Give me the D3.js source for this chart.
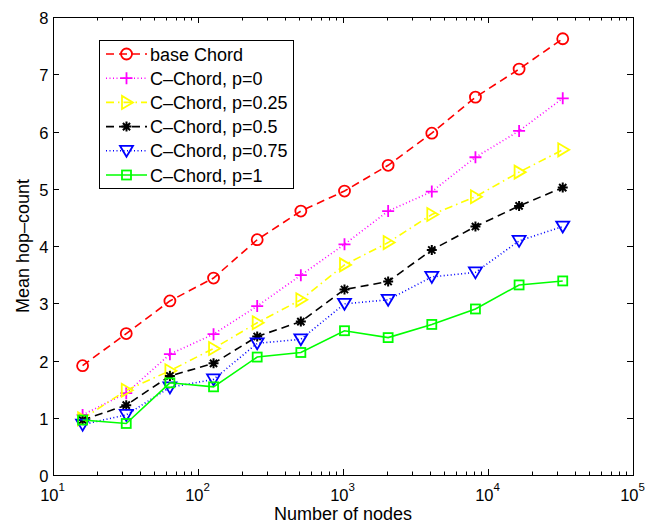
<!DOCTYPE html>
<html><head><meta charset="utf-8">
<script src="https://cdn.jsdelivr.net/npm/d3@7"></script>
<style>body{margin:0;background:#fff}svg{display:block}text{font-family:"Liberation Sans",Arial,Helvetica,sans-serif;fill:#000}</style>
</head><body><svg id="c" width="655" height="522"></svg>
<script>
const nodes = [16,32,64,128,256,512,1024,2048,4096,8192,16384,32768];
const baseChord = [1.91,2.47,3.04,3.44,4.11,4.61,4.96,5.41,5.97,6.60,7.09,7.62];
const cChordP0 = [1.05,1.43,2.11,2.46,2.95,3.49,4.03,4.61,4.95,5.55,6.01,6.58];
const cChordP025 = [0.98,1.48,1.82,2.21,2.66,3.06,3.67,4.06,4.55,4.86,5.29,5.68];
const cChordP05 = [0.96,1.22,1.73,1.95,2.42,2.68,3.24,3.38,3.93,4.34,4.70,5.02];
const cChordP075 = [0.88,1.05,1.53,1.67,2.30,2.37,2.99,3.06,3.46,3.54,4.09,4.34];
const cChordP1 = [0.96,0.90,1.61,1.54,2.06,2.14,2.52,2.40,2.63,2.90,3.32,3.39];
const seriesNames = ["base Chord","C\u2013Chord, p=0","C\u2013Chord, p=0.25","C\u2013Chord, p=0.5","C\u2013Chord, p=0.75","C\u2013Chord, p=1"];
const yTicks = [0,1,2,3,4,5,6,7,8];
const xDecades = [1,2,3,4,5];
const xLabel = "Number of nodes";
const yLabel = "Mean hop\u2013count";

const series = [
  {name:seriesNames[0], values:baseChord, color:"#ff0000", dash:"8,5", marker:"circle"},
  {name:seriesNames[1], values:cChordP0, color:"#ff00ff", dash:"1,2.5", marker:"plus"},
  {name:seriesNames[2], values:cChordP025, color:"#ffff00", dash:"8,4,1.5,4", marker:"tright"},
  {name:seriesNames[3], values:cChordP05, color:"#000000", dash:"8,5", marker:"star"},
  {name:seriesNames[4], values:cChordP075, color:"#0000ff", dash:"1,2.5", marker:"tdown"},
  {name:seriesNames[5], values:cChordP1, color:"#00ff00", dash:null, marker:"square"}
];

const svg = d3.select("#c");
const L=53, R=633, T=17, B=475;
const x = d3.scaleLog().domain([10,1e5]).range([L,R]);
const y = d3.scaleLinear().domain([0,8]).range([B,T]);

// ticks
const g = svg.append("g").attr("stroke","#000").attr("stroke-width",1);
yTicks.forEach(t=>{
  const yy = Math.round(y(t))+0.5;
  g.append("line").attr("x1",L).attr("x2",L+6).attr("y1",yy).attr("y2",yy);
  g.append("line").attr("x1",R).attr("x2",R-6).attr("y1",yy).attr("y2",yy);
});
for(let d=1; d<5; d++){
  for(let m=1; m<10; m++){
    const v = m*Math.pow(10,d);
    const xx = Math.round(x(v))+0.5;
    const len = m===1?6:3.5;
    g.append("line").attr("x1",xx).attr("x2",xx).attr("y1",B).attr("y2",B-len);
    g.append("line").attr("x1",xx).attr("x2",xx).attr("y1",T).attr("y2",T+len);
  }
}
svg.append("rect").attr("x",L+0.5).attr("y",T+0.5).attr("width",R-L).attr("height",B-T)
  .attr("fill","none").attr("stroke","#000").attr("stroke-width",1);

// tick labels
yTicks.forEach(t=>{
  svg.append("text").attr("x",L-4.5).attr("y",y(t)+7).attr("text-anchor","end")
    .attr("font-size",16.5).text(t);
});
xDecades.forEach(d=>{
  const xv = x(Math.pow(10,d));
  svg.append("text").attr("x",xv+5.5).attr("y",501).attr("text-anchor","end")
    .attr("font-size",16.5).text("10");
  svg.append("text").attr("x",xv+5.5).attr("y",491).attr("text-anchor","start")
    .attr("font-size",11.5).text(d);
});
svg.append("text").attr("x",(L+R)/2).attr("y",519.5).attr("text-anchor","middle")
  .attr("font-size",18).text(xLabel);
svg.append("text").attr("transform","translate(29,"+((T+B)/2)+") rotate(-90)")
  .attr("text-anchor","middle").attr("font-size",18).text(yLabel);

function drawMarker(sel, type, cx, cy, color){
  let el;
  switch(type){
    case "circle":
      el = sel.append("circle").attr("cx",cx).attr("cy",cy).attr("r",5.5); break;
    case "plus":
      el = sel.append("path").attr("d",`M${cx-6},${cy}H${cx+6}M${cx},${cy-6}V${cy+6}`); break;
    case "star":
      el = sel.append("path").attr("d",`M${cx-5},${cy}H${cx+5}M${cx},${cy-5}V${cy+5}M${cx-3.6},${cy-3.6}L${cx+3.6},${cy+3.6}M${cx-3.6},${cy+3.6}L${cx+3.6},${cy-3.6}`).attr("stroke-width",2); break;
    case "tright":
      el = sel.append("path").attr("d",`M${cx+6.5},${cy}L${cx-4.5},${cy-6.5}L${cx-4.5},${cy+6.5}Z`); break;
    case "tdown":
      el = sel.append("path").attr("d",`M${cx},${cy+6}L${cx-6.5},${cy-5}L${cx+6.5},${cy-5}Z`); break;
    case "square":
      el = sel.append("rect").attr("x",cx-4.5).attr("y",cy-4.5).attr("width",9).attr("height",9); break;
  }
  el.attr("fill","none").attr("stroke",color);
  if(!el.attr("stroke-width")) el.attr("stroke-width",1.8);
}

const line = d3.line().x((d,i)=>x(nodes[i])).y(d=>y(d));
series.forEach(s=>{
  const gs = svg.append("g");
  gs.append("path").datum(s.values).attr("d",line).attr("fill","none")
    .attr("stroke",s.color).attr("stroke-width",1.6)
    .attr("stroke-dasharray",s.dash);
  s.values.forEach((v,i)=>drawMarker(gs,s.marker,x(nodes[i]),y(v),s.color));
});

// legend
const lg = svg.append("g");
lg.append("rect").attr("x",99.5).attr("y",40.5).attr("width",194).attr("height",148)
  .attr("fill","#fff").attr("stroke","#000").attr("stroke-width",1);
series.forEach((s,i)=>{
  const cy = 54 + i*24.2;
  lg.append("line").attr("x1",106).attr("x2",147).attr("y1",cy).attr("y2",cy)
    .attr("stroke",s.color).attr("stroke-width",1.6).attr("stroke-dasharray",s.dash);
  drawMarker(lg,s.marker,126.5,cy,s.color);
  lg.append("text").attr("x",150).attr("y",cy+6.5).attr("font-size",18).text(s.name);
});
</script></body></html>
